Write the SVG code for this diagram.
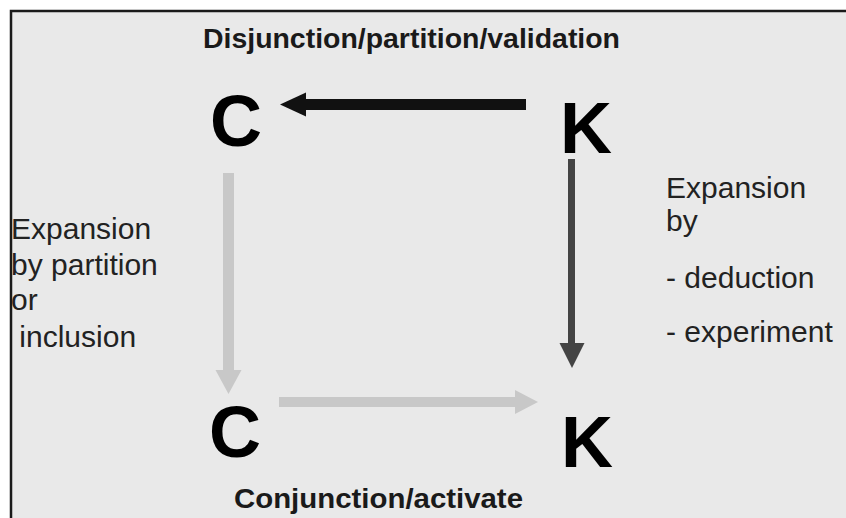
<svg xmlns="http://www.w3.org/2000/svg" width="846" height="518" viewBox="0 0 846 518">
  <style>
    .frame { fill: #e9e9e9; stroke: #1a1a1a; stroke-width: 2.5; }
    .title { font-family: "Liberation Sans", Arial, sans-serif; font-weight: bold; font-size: 28px; fill: #1a1a1a; }
    .letter { font-family: "Liberation Sans", Arial, sans-serif; font-weight: bold; font-size: 72px; fill: #000; }
    .note { font-family: "Liberation Sans", Arial, sans-serif; font-size: 30px; fill: #222; }
  </style>
  <rect class="frame" x="11" y="11" width="850" height="520"/>

  <g id="title-top"><text class="title" x="203" y="48" textLength="417" lengthAdjust="spacingAndGlyphs">Disjunction/partition/validation</text></g>
  <g id="title-bottom"><text class="title" x="234" y="508" textLength="289" lengthAdjust="spacingAndGlyphs">Conjunction/activate</text></g>

  <g id="node-C-top"><text class="letter" x="210" y="146">C</text></g>
  <g id="node-K-top"><text class="letter" x="560" y="153">K</text></g>
  <g id="node-C-bottom"><text class="letter" x="209" y="457">C</text></g>
  <g id="node-K-bottom"><text class="letter" x="561" y="467">K</text></g>

  <g id="label-left" class="note">
    <text x="11" y="239">Expansion</text>
    <text x="11" y="275">by partition</text>
    <text x="11" y="310">or</text>
    <text x="11" y="347" xml:space="preserve"> inclusion</text>
  </g>
  <g id="label-right" class="note">
    <text x="666" y="198">Expansion</text>
    <text x="666" y="231">by</text>
    <text x="666" y="288">- deduction</text>
    <text x="666" y="342">- experiment</text>
  </g>

  <g id="connectors">
    <!-- K -> C top (black) -->
    <rect x="304" y="99" width="222" height="11" fill="#111"/>
    <polygon points="280,104.5 306,92.5 306,116.5" fill="#111"/>
    <!-- K top -> K bottom (dark gray) -->
    <rect x="568" y="159" width="7" height="186" fill="#444"/>
    <polygon points="559.5,343 584.5,343 572,368" fill="#444"/>
    <!-- C top -> C bottom (light gray) -->
    <rect x="223" y="173" width="11" height="199" fill="#c8c8c8"/>
    <polygon points="215.5,370 241.5,370 228.5,394" fill="#c8c8c8"/>
    <!-- C bottom -> K bottom (light gray) -->
    <rect x="279" y="397" width="238" height="10" fill="#c8c8c8"/>
    <polygon points="515,390 538,402 515,414" fill="#c8c8c8"/>
  </g>
</svg>
